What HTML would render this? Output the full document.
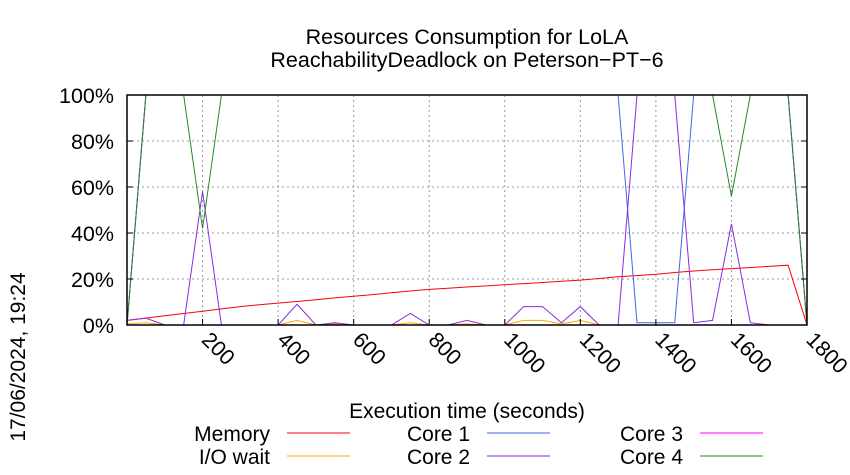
<!DOCTYPE html>
<html><head><meta charset="utf-8"><style>
body{margin:0;background:#fff;}
svg{display:block;font-family:"Liberation Sans",sans-serif;}
</style></head><body>
<svg id="chart" width="850" height="475">
<text x="467" y="44" font-size="21.5" text-anchor="middle">Resources Consumption for LoLA</text>
<text x="467" y="67" font-size="21.5" text-anchor="middle">ReachabilityDeadlock on Peterson−PT−6</text>
<text transform="translate(25,357) rotate(-90)" font-size="21" text-anchor="middle">17/06/2024, 19:24</text>
<text x="467" y="418" font-size="21" text-anchor="middle">Execution time (seconds)</text>
<g id="grid"></g><g id="series"></g><g id="axes"></g><g id="legend"></g>
</svg>
<script>
const times=[0,50,100,150,200,250,300,350,400,450,500,550,600,650,700,750,800,850,900,950,1000,1050,1100,1150,1200,1250,1300,1350,1400,1450,1500,1550,1600,1650,1700,1750,1800];
const memory=[2,3,4,5,6,7,8,8.8,9.5,10.2,11,11.8,12.5,13.2,14,14.8,15.5,16,16.5,17,17.5,18,18.5,19,19.5,20.2,21,21.5,22,22.8,23.5,24,24.5,25,25.5,26,0];
const ioWait=[0.5,1,0,0,0,0,0,0,0,2,0,0.5,0,0,0,1,0,0,0.5,0,0,2,2,0.5,2,0,0,0,0,0,0,0,0,0,0,0,0];
const core1=[0,100,100,100,100,100,100,100,100,100,100,100,100,100,100,100,100,100,100,100,100,100,100,100,100,100,100,1,1,1,100,100,100,100,100,100,0];
const core2=[2,3,0,0,58,0,0,0,0,9,0,1,0,0,0,5,0,0,2,0,0,8,8,1,8,0,0,100,100,100,1,2,44,1,0,0,0];
const core3=[0,100,100,100,100,100,100,100,100,100,100,100,100,100,100,100,100,100,100,100,100,100,100,100,100,100,100,100,100,100,100,100,100,100,100,100,0];
const core4=[0,100,100,100,42,100,100,100,100,100,100,100,100,100,100,100,100,100,100,100,100,100,100,100,100,100,100,100,100,100,100,100,56,100,100,100,0];
const xTicks=[200,400,600,800,1000,1200,1400,1600,1800];
const yTicks=[0,20,40,60,80,100];
const yLabels=["0%","20%","40%","60%","80%","100%"];
const L=127,R=807,T=95,B=325;
const X=t=>L+(R-L)*t/1800, Y=v=>B-(B-T)*v/100;
const NS="http://www.w3.org/2000/svg";
function mk(tag,parent,attrs){const e=document.createElementNS(NS,tag);for(const k in attrs)e.setAttribute(k,attrs[k]);document.getElementById(parent).appendChild(e);return e;}
yTicks.forEach((v,i)=>{
  if(v>0&&v<100){const g=mk('line','grid',{x1:L,x2:R,y1:Y(v),y2:Y(v),stroke:'#999','stroke-dasharray':'2,3'});
  
  }
  const t=mk('text','axes',{x:L-13,y:Y(v)+8,'font-size':21.5,'text-anchor':'end'});t.textContent=yLabels[i];
  
  
  mk('line','axes',{x1:L,x2:L+6,y1:Y(v),y2:Y(v),stroke:'#000'});
  mk('line','axes',{x1:R,x2:R-6,y1:Y(v),y2:Y(v),stroke:'#000'});
});
xTicks.forEach(v=>{
  if(v<1800){const g=mk('line','grid',{x1:X(v),x2:X(v),y1:T,y2:B,stroke:'#999','stroke-dasharray':'2,3'});
  
  }
  mk('line','axes',{x1:X(v),x2:X(v),y1:B,y2:B-6,stroke:'#000'});
  const t=mk('text','axes',{transform:`translate(${X(v)-2},${341}) rotate(45)`,'font-size':21.5});t.textContent=v;
  
  
});
const rect=mk('rect','axes',{x:L,y:T,width:R-L,height:B-T,fill:'none',stroke:'#000','stroke-width':1.5});


const series=[["memory",memory,"#ff0000"],["io-wait",ioWait,"#ffa500"],["core-1",core1,"#4169e1"],["core-2",core2,"#8a2be2"],["core-3",core3,"#ff00ff"],["core-4",core4,"#228b22"]];
series.forEach(([n,d,c])=>{
  const p=mk('polyline','series',{points:d.map((v,i)=>X(times[i])+','+Y(v)).join(' '),fill:'none',stroke:c,'stroke-width':1});
  
  
});
const leg=[["Memory","#ff0000",270,433],["I/O wait","#ffa500",270,456],["Core 1","#4169e1",470,433],["Core 2","#8a2be2",470,456],["Core 3","#ff00ff",683,433],["Core 4","#228b22",683,456]];
leg.forEach(([n,c,x,y])=>{
  const t=mk('text','legend',{x:x,y:y+8,'font-size':21,'text-anchor':'end'});t.textContent=n;
  
  
  const l=mk('line','legend',{x1:x+17,x2:x+80,y1:y,y2:y,stroke:c});
  
  
});
</script>
</body></html>
